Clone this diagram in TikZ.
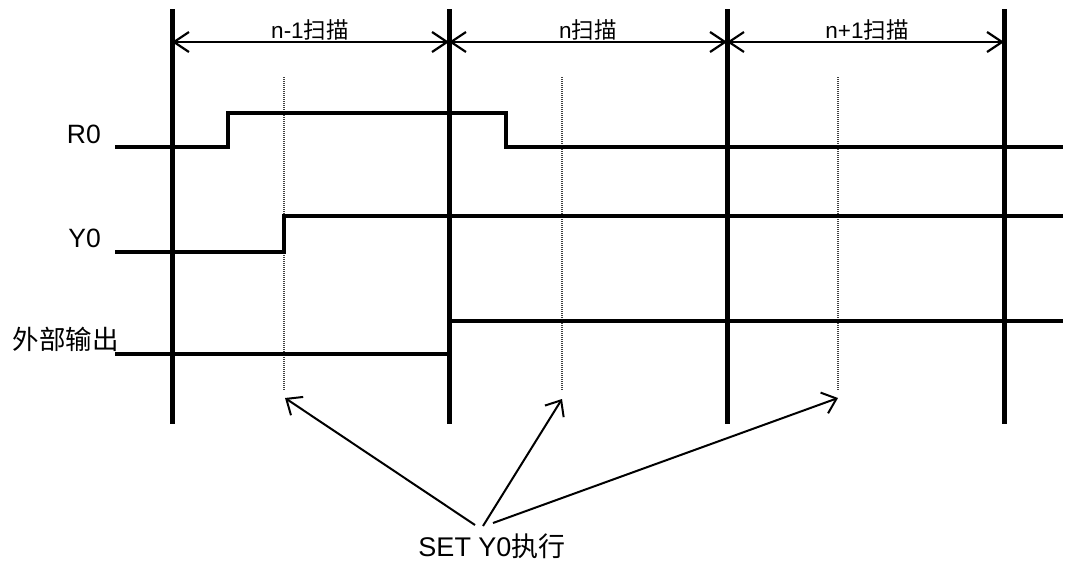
\documentclass[tikz,border=0pt]{standalone}
\usepackage{fontspec}
\setmainfont{Liberation Sans}
\newfontfamily\cjk{Noto Sans CJK SC}
\usetikzlibrary{arrows.meta}
\begin{document}
\begin{tikzpicture}[x=1pt,y=-1pt,
  bar/.style={line width=5pt},
  sig/.style={line width=3.2pt, line join=miter},
  dimline/.style={line width=2.2pt, {Straight Barb[length=15pt,width=20pt]}-{Straight Barb[length=15pt,width=20pt]}},
  dotline/.style={line width=1.4pt, gray!50!black, dash pattern=on 1pt off 1pt},
  ptr/.style={line width=2pt, -{Straight Barb[length=13pt,width=22pt]}},
  lab/.style={font=\fontsize{26.5}{27}\selectfont, inner sep=0pt, anchor=base east},
  toplab/.style={font=\fontsize{22.5}{23}\selectfont, inner sep=0pt, anchor=base},
  setlab/.style={font=\fontsize{27}{27}\selectfont, inner sep=0pt, anchor=base}]
\useasboundingbox (0,0) rectangle (1069,565);
% scan boundaries
\foreach \i/\x in {1/172,2/449,3/727,4/1004}{
  \coordinate (t\i) at (\x,9);
  \coordinate (b\i) at (\x,424);
  \coordinate (d\i) at (\x,42);
}
\foreach \i in {1,2,3,4}{ \draw[bar] (t\i) -- (b\i); }
% dimension arrows
\draw[dimline] (d1) -- (d2);
\draw[dimline] (d2) -- (d3);
\draw[dimline] (d3) -- (d4);
\node[toplab] (l1) at (310,38) {n-1{\cjk 扫描}};
\node[toplab] (l2) at (588,38) {n{\cjk 扫描}};
\node[toplab] (l3) at (867,38) {n+1{\cjk 扫描}};
% dotted execution lines
\foreach \i/\x in {1/284,2/562,3/838}{
  \coordinate (e\i) at (\x,77);
  \coordinate (f\i) at (\x,391);
  \draw[dotline] (e\i) -- (f\i);
}
% signal labels
\node[lab] (r0) at (101,143) {R0};
\node[lab] (y0) at (101,247) {Y0};
\node[lab] (ext) at (119,349) {\cjk 外部输出};
% signals
\draw[sig] (115,147) -- (228,147) -- (228,113) -- (506,113) -- (506,147) -- (1063,147);
\draw[sig] (115,252) -- (284,252) -- (284,216) -- (1063,216);
\draw[sig] (115,354) -- (449,354) -- (449,321) -- (1063,321);
% SET Y0 execution
\node[setlab] (set) at (492,556) {SET Y0{\cjk 执行}};
\coordinate (s1) at (475,525);
\coordinate (s2) at (483,526);
\coordinate (s3) at (493,523);
\coordinate (p1) at (285,398);
\coordinate (p2) at (562,399);
\coordinate (p3) at (838,398);
\draw[ptr] (s1) -- (p1);
\draw[ptr] (s2) -- (p2);
\draw[ptr] (s3) -- (p3);
\end{tikzpicture}
\end{document}
